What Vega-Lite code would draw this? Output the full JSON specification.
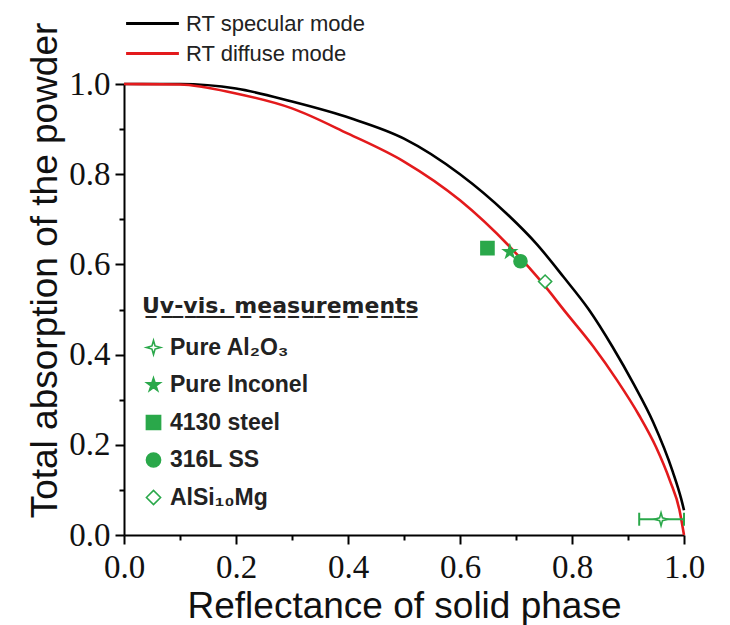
{
  "$schema": "https://vega.github.io/schema/vega-lite/v6.json",
  "width": 560,
  "height": 451,
  "autosize": {"type": "none"},
  "padding": {"left": 124, "top": 84, "right": 46, "bottom": 90},
  "background": "white",
  "config": {"view": {"stroke": null}},
  "datasets": {
    "curves": [
      {"mode": "RT specular mode", "r": 0.0, "a": 1.0},
      {"mode": "RT specular mode", "r": 0.1, "a": 1.0},
      {"mode": "RT specular mode", "r": 0.2, "a": 0.99},
      {"mode": "RT specular mode", "r": 0.3, "a": 0.961},
      {"mode": "RT specular mode", "r": 0.405, "a": 0.924},
      {"mode": "RT specular mode", "r": 0.5, "a": 0.879},
      {"mode": "RT specular mode", "r": 0.6, "a": 0.8},
      {"mode": "RT specular mode", "r": 0.683, "a": 0.713},
      {"mode": "RT specular mode", "r": 0.737, "a": 0.645},
      {"mode": "RT specular mode", "r": 0.785, "a": 0.572},
      {"mode": "RT specular mode", "r": 0.83, "a": 0.5},
      {"mode": "RT specular mode", "r": 0.872, "a": 0.418},
      {"mode": "RT specular mode", "r": 0.91, "a": 0.335},
      {"mode": "RT specular mode", "r": 0.945, "a": 0.25},
      {"mode": "RT specular mode", "r": 0.98, "a": 0.14},
      {"mode": "RT specular mode", "r": 0.995, "a": 0.08},
      {"mode": "RT specular mode", "r": 1.0, "a": 0.055},
      {"mode": "RT diffuse mode", "r": 0.0, "a": 1.0},
      {"mode": "RT diffuse mode", "r": 0.1, "a": 0.999},
      {"mode": "RT diffuse mode", "r": 0.2, "a": 0.979},
      {"mode": "RT diffuse mode", "r": 0.3, "a": 0.946},
      {"mode": "RT diffuse mode", "r": 0.4, "a": 0.89},
      {"mode": "RT diffuse mode", "r": 0.5, "a": 0.828},
      {"mode": "RT diffuse mode", "r": 0.6, "a": 0.742},
      {"mode": "RT diffuse mode", "r": 0.689, "a": 0.639},
      {"mode": "RT diffuse mode", "r": 0.743, "a": 0.565},
      {"mode": "RT diffuse mode", "r": 0.79, "a": 0.492},
      {"mode": "RT diffuse mode", "r": 0.838, "a": 0.418},
      {"mode": "RT diffuse mode", "r": 0.88, "a": 0.344},
      {"mode": "RT diffuse mode", "r": 0.92, "a": 0.265},
      {"mode": "RT diffuse mode", "r": 0.95, "a": 0.195},
      {"mode": "RT diffuse mode", "r": 0.975, "a": 0.12},
      {"mode": "RT diffuse mode", "r": 0.992, "a": 0.055},
      {"mode": "RT diffuse mode", "r": 1.0, "a": 0.0}
    ],
    "meas": [
      {"material": "Pure Al₂O₃", "r": 0.959, "a": 0.035},
      {"material": "Pure Inconel", "r": 0.689, "a": 0.628},
      {"material": "4130 steel", "r": 0.649, "a": 0.636},
      {"material": "316L SS", "r": 0.708, "a": 0.607},
      {"material": "AlSi₁₀Mg", "r": 0.752, "a": 0.562}
    ],
    "err": [
      {"material": "Pure Al₂O₃", "lo": 0.92, "hi": 1.0, "a": 0.035}
    ]
  },
  "layer": [
    {
      "data": {"name": "curves"},
      "mark": {"type": "line", "strokeWidth": 2.6, "interpolate": "monotone"},
      "encoding": {
        "x": {
          "field": "r", "type": "quantitative",
          "title": "Reflectance of solid phase",
          "scale": {"domain": [0, 1], "nice": false, "zero": false},
          "axis": {
            "values": [0, 0.1, 0.2, 0.3, 0.4, 0.5, 0.6, 0.7, 0.8, 0.9, 1.0],
            "labelExpr": "round(datum.value*10)%2==0 ? format(datum.value,'.1f') : ''",
            "tickSize": {"condition": {"test": "round(datum.value*10)%2==1", "value": 5}, "value": 9},
            "titleFont": "Liberation Sans", "titleFontSize": 37, "titleFontWeight": "normal", "titleColor": "#111",
            "titlePadding": 4,
            "labelFont": "Liberation Serif", "labelFontSize": 33, "labelColor": "#111", "labelPadding": 7,
            "labelFlush": false, "labelOverlap": false,
            "domainColor": "#000", "domainWidth": 2, "tickColor": "#000", "tickWidth": 2, "grid": false
          }
        },
        "y": {
          "field": "a", "type": "quantitative",
          "title": "Total absorption of the powder",
          "scale": {"domain": [0, 1], "nice": false, "zero": false},
          "axis": {
            "values": [0, 0.1, 0.2, 0.3, 0.4, 0.5, 0.6, 0.7, 0.8, 0.9, 1.0],
            "labelExpr": "round(datum.value*10)%2==0 ? format(datum.value,'.1f') : ''",
            "tickSize": {"condition": {"test": "round(datum.value*10)%2==1", "value": 5}, "value": 9},
            "titleFont": "Liberation Sans", "titleFontSize": 37, "titleFontWeight": "normal", "titleColor": "#111",
            "titleX": -68, "titleY": 186, "titleBaseline": "alphabetic", "titleAlign": "center", "titleAngle": 270,
            "labelFont": "Liberation Serif", "labelFontSize": 33, "labelColor": "#111", "labelPadding": 5,
            "labelFlush": false, "labelOverlap": false,
            "domainColor": "#000", "domainWidth": 2, "tickColor": "#000", "tickWidth": 2, "grid": false
          }
        },
        "color": {
          "field": "mode", "type": "nominal",
          "scale": {"domain": ["RT specular mode", "RT diffuse mode"], "range": ["#000000", "#e31a1c"]},
          "legend": {
            "orient": "none", "legendX": 15, "legendY": -74, "title": null,
            "symbolType": "M-2.2,0L2.2,0", "symbolSize": 576, "symbolStrokeWidth": 3,
            "labelFont": "Liberation Sans", "labelFontSize": 22, "labelColor": "#222", "labelLimit": 400,
            "labelOffset": 20, "rowPadding": 5
          }
        }
      }
    },
    {
      "data": {"name": "err"},
      "mark": {"type": "rule", "color": "#2aa84a", "strokeWidth": 2},
      "encoding": {
        "x": {"field": "lo", "type": "quantitative", "title": "Reflectance of solid phase"},
        "x2": {"field": "hi"},
        "y": {"field": "a", "type": "quantitative", "title": "Total absorption of the powder"}
      }
    },
    {
      "data": {"name": "err"},
      "mark": {"type": "tick", "orient": "vertical", "color": "#2aa84a", "thickness": 2, "size": 13, "opacity": 1},
      "encoding": {
        "x": {"field": "lo", "type": "quantitative", "title": "Reflectance of solid phase"},
        "y": {"field": "a", "type": "quantitative", "title": "Total absorption of the powder"}
      }
    },
    {
      "data": {"name": "err"},
      "mark": {"type": "tick", "orient": "vertical", "color": "#2aa84a", "thickness": 2, "size": 13, "opacity": 1},
      "encoding": {
        "x": {"field": "hi", "type": "quantitative", "title": "Reflectance of solid phase"},
        "y": {"field": "a", "type": "quantitative", "title": "Total absorption of the powder"}
      }
    },
    {
      "data": {"name": "meas"},
      "mark": {"type": "point", "strokeWidth": 1.6, "size": 170, "opacity": 1, "fillOpacity": 1, "strokeOpacity": 1},
      "encoding": {
        "x": {"field": "r", "type": "quantitative", "title": "Reflectance of solid phase"},
        "y": {"field": "a", "type": "quantitative", "title": "Total absorption of the powder"},
        "shape": {
          "field": "material", "type": "nominal",
          "scale": {
            "domain": ["Pure Al₂O₃", "Pure Inconel", "4130 steel", "316L SS", "AlSi₁₀Mg"],
            "range": [
              "M0,-1L0.22,-0.22L1,0L0.22,0.22L0,1L-0.22,0.22L-1,0L-0.22,-0.22Z",
              "M0,-1L0.2245,-0.309L0.951,-0.309L0.363,0.118L0.588,0.809L0,0.382L-0.588,0.809L-0.363,0.118L-0.951,-0.309L-0.2245,-0.309Z",
              "square", "circle", "diamond"
            ]
          },
          "legend": {
            "orient": "none", "legendX": 18, "legendY": 212,
            "title": "U\u0332v\u0332-\u0332v\u0332i\u0332s\u0332.\u0332 \u0332m\u0332e\u0332a\u0332s\u0332u\u0332r\u0332e\u0332m\u0332e\u0332n\u0332t\u0332s\u0332",
            "titleFont": "DejaVu Sans", "titleFontWeight": "bold", "titleFontSize": 22, "titleColor": "#222", "titlePadding": 18, "titleLimit": 500,
            "labelFont": "Liberation Sans", "labelFontWeight": "bold", "labelFontSize": 23, "labelColor": "#222", "labelLimit": 400,
            "symbolSize": 200, "symbolStrokeWidth": 1.6,
            "rowPadding": 13.5, "labelOffset": 5
          }
        },
        "fill": {
          "field": "material", "type": "nominal",
          "scale": {
            "domain": ["Pure Al₂O₃", "Pure Inconel", "4130 steel", "316L SS", "AlSi₁₀Mg"],
            "range": ["#ffffff", "#2aa84a", "#2aa84a", "#2aa84a", "#ffffff"]
          },
          "legend": {
            "orient": "none", "legendX": 18, "legendY": 212,
            "title": "U\u0332v\u0332-\u0332v\u0332i\u0332s\u0332.\u0332 \u0332m\u0332e\u0332a\u0332s\u0332u\u0332r\u0332e\u0332m\u0332e\u0332n\u0332t\u0332s\u0332",
            "titleFont": "DejaVu Sans", "titleFontWeight": "bold", "titleFontSize": 22, "titleColor": "#222", "titlePadding": 18, "titleLimit": 500,
            "labelFont": "Liberation Sans", "labelFontWeight": "bold", "labelFontSize": 23, "labelColor": "#222", "labelLimit": 400,
            "symbolSize": 200, "symbolStrokeWidth": 1.6,
            "rowPadding": 13.5, "labelOffset": 5
          }
        },
        "stroke": {
          "field": "material", "type": "nominal",
          "scale": {
            "domain": ["Pure Al₂O₃", "Pure Inconel", "4130 steel", "316L SS", "AlSi₁₀Mg"],
            "range": ["#2aa84a", "#2aa84a", "#2aa84a", "#2aa84a", "#2aa84a"]
          },
          "legend": {
            "orient": "none", "legendX": 18, "legendY": 212,
            "title": "U\u0332v\u0332-\u0332v\u0332i\u0332s\u0332.\u0332 \u0332m\u0332e\u0332a\u0332s\u0332u\u0332r\u0332e\u0332m\u0332e\u0332n\u0332t\u0332s\u0332",
            "titleFont": "DejaVu Sans", "titleFontWeight": "bold", "titleFontSize": 22, "titleColor": "#222", "titlePadding": 18, "titleLimit": 500,
            "labelFont": "Liberation Sans", "labelFontWeight": "bold", "labelFontSize": 23, "labelColor": "#222", "labelLimit": 400,
            "symbolSize": 200, "symbolStrokeWidth": 1.6,
            "rowPadding": 13.5, "labelOffset": 5
          }
        }
      }
    }
  ]
}
